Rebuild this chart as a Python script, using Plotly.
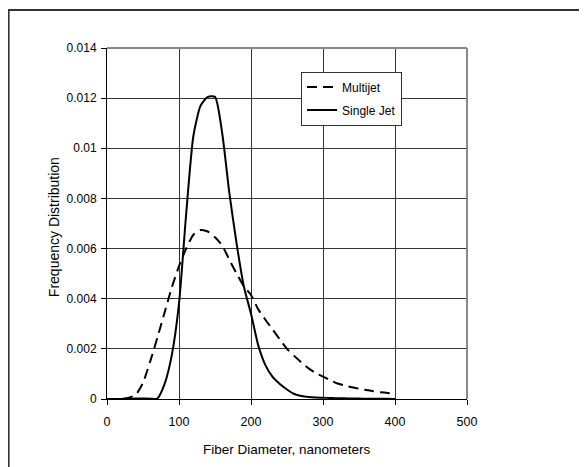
import plotly.graph_objects as go

# ---- data ----
diameter_nm = [0, 10, 20, 30, 40, 50, 60, 70, 80, 90, 100, 110, 120, 130, 140, 150,
               160, 170, 180, 190, 200, 210, 220, 230, 240, 250, 260, 270, 280, 290,
               300, 310, 320, 330, 340, 350, 360, 370, 380, 390, 400]

multijet = [0, 0, 0.00001, 0.00005, 0.00017, 0.00065, 0.00150, 0.00245, 0.00345, 0.00445,
            0.00530, 0.00600, 0.00655, 0.00674, 0.00668, 0.00645, 0.00612, 0.00555, 0.00500,
            0.00450, 0.00415, 0.00358, 0.00316, 0.00277, 0.00238, 0.00200, 0.00172, 0.00146,
            0.00122, 0.00103, 0.00089, 0.00075, 0.00062, 0.00054, 0.00047, 0.00041, 0.00036,
            0.00031, 0.00027, 0.00024, 0.00021]

single_jet = [0, 0, 0, 0, 0.00002, 0.00002, 0.00001, 0.00002, 0.00060, 0.00175,
              0.00380, 0.00740, 0.01050, 0.01170, 0.01205, 0.01205, 0.01060, 0.00820, 0.00620,
              0.00450, 0.00340, 0.00215, 0.00135, 0.00088, 0.00060, 0.00038, 0.00020, 0.00012,
              0.00008, 0.00006, 0.00005, 0.00004, 0.00003, 0.00003, 0.00002, 0.00002, 0.00001,
              0.00001, 0.00001, 0.00001, 0]

x_tick_vals = [0, 100, 200, 300, 400, 500]
x_tick_text = ["0", "100", "200", "300", "400", "500"]
y_tick_vals = [0, 0.002, 0.004, 0.006, 0.008, 0.01, 0.012, 0.014]
y_tick_text = ["0", "0.002", "0.004", "0.006", "0.008", "0.01", "0.012", "0.014"]

FONT = "Liberation Sans, Arial, sans-serif"

# page body adds an 8px offset, so margins are reduced by 8
fig = go.Figure()
fig.add_trace(go.Scatter(
    x=diameter_nm, y=multijet, mode="lines", name="Multijet",
    line=dict(color="black", width=2, dash="10px,6px", shape="spline", smoothing=0.6),
    legendgroup="a"))
fig.add_trace(go.Scatter(
    x=diameter_nm, y=single_jet, mode="lines", name="Single Jet",
    line=dict(color="black", width=2, shape="spline", smoothing=0.6),
    legendgroup="b"))

fig.update_layout(
    width=587, height=467,
    margin=dict(l=99, r=128, t=40, b=76),
    paper_bgcolor="white", plot_bgcolor="white",
    font=dict(family=FONT, size=12, color="black"),
    showlegend=True,
    legend=dict(x=0.539, y=0.933, xanchor="left", yanchor="top",
                bordercolor="#333", borderwidth=1, bgcolor="white",
                font=dict(family=FONT, size=12, color="black"),
                traceorder="grouped", tracegroupgap=4),
    xaxis=dict(range=[0, 500], tickvals=x_tick_vals, ticktext=x_tick_text,
               showgrid=True, gridcolor="#333", gridwidth=1,
               showline=True, linecolor="black", linewidth=1,
               ticks="outside", ticklen=5, tickcolor="black", zeroline=False,
               ticklabelstandoff=6, tickfont=dict(size=12.5)),
    yaxis=dict(range=[0, 0.014], tickvals=y_tick_vals, ticktext=y_tick_text,
               showgrid=True, gridcolor="#333", gridwidth=1,
               showline=True, linecolor="black", linewidth=1,
               ticks="outside", ticklen=5, tickcolor="black", zeroline=False,
               ticklabelstandoff=2, tickfont=dict(size=12)),
    annotations=[
        dict(text="Fiber Diameter, nanometers", xref="paper", yref="paper",
             x=0.5, y=(399 - 449) / 350.7, xanchor="center", yanchor="middle",
             showarrow=False, font=dict(family=FONT, size=13.5)),
        dict(text="Frequency Distribution", xref="paper", yref="paper",
             x=(54 - 106.7) / 360, y=(399 - 227) / 350.7, xanchor="center", yanchor="middle",
             textangle=-90, showarrow=False, font=dict(family=FONT, size=14)),
    ],
    shapes=[
        dict(type="line", xref="paper", yref="paper", x0=0, x1=1, y0=1, y1=1,
             line=dict(color="#888", width=2)),
        dict(type="line", xref="paper", yref="paper", x0=1, x1=1, y0=0, y1=1,
             line=dict(color="#888", width=2)),
        dict(type="rect", xref="paper", yref="paper",
             x0=(8.3 - 106.7) / 360, x1=(580 - 106.7) / 360,
             y0=(399 - 475) / 350.7, y1=(399 - 10.3) / 350.7,
             line=dict(color="#333", width=2), layer="below"),
    ],
)

fig.write_html("out.html")
